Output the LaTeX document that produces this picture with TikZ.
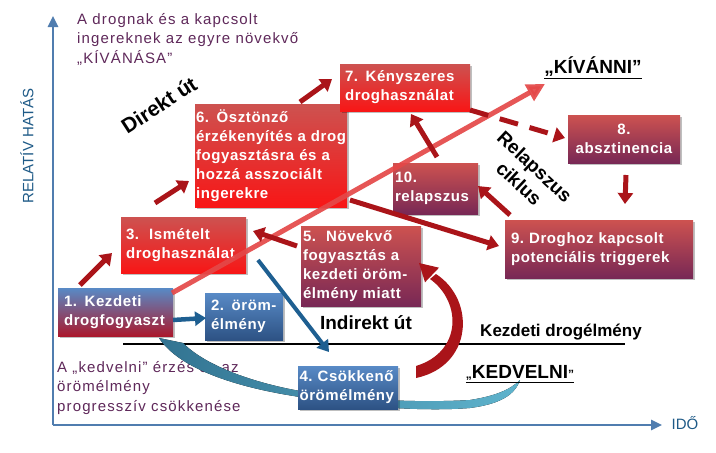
\documentclass[tikz,border=0pt]{standalone}
\usepackage{fontspec}
\setmainfont{Liberation Sans}
\newfontfamily\spacedfont[LetterSpace=7.5]{Liberation Sans}
\newfontfamily\boxspfont[LetterSpace=4]{Liberation Sans}
\usetikzlibrary{arrows.meta,shadows}
\hyphenpenalty=10000
\exhyphenpenalty=10000
\definecolor{axisblue}{RGB}{80,125,175}
\definecolor{labelblue}{RGB}{30,90,135}
\definecolor{plumtext}{RGB}{95,40,90}
\definecolor{arrowred}{RGB}{170,20,25}
\definecolor{diagred}{RGB}{228,72,72}
\definecolor{arrowblue}{RGB}{30,95,145}
\definecolor{swooshA}{RGB}{50,115,145}
\definecolor{swooshB}{RGB}{95,180,205}
\definecolor{redtop}{RGB}{205,82,80}
\definecolor{redbot}{RGB}{248,22,22}
\definecolor{plumtop}{RGB}{205,82,80}
\definecolor{plumbot}{RGB}{120,40,85}
\definecolor{bluetop}{RGB}{88,138,198}
\definecolor{bluebot}{RGB}{45,82,132}
\definecolor{mixbot}{RGB}{170,25,45}
\begin{document}
\begin{tikzpicture}[x=1pt,y=-1pt,
  box/.style={text=white, font=\boxspfont\bfseries\fontsize{15}{19}\selectfont, align=left, inner ysep=0pt,
    drop shadow={shadow xshift=1.5pt,shadow yshift=-1.5pt,opacity=0.25,fill=black}},
  redbox/.style={box, top color=redtop, bottom color=redbot},
  plumbox/.style={box, top color=plumtop, bottom color=plumbot},
  bluebox/.style={box, top color=bluetop, bottom color=bluebot},
  mixbox/.style={box, top color=bluetop, bottom color=mixbot},
  redarrow/.style={draw=arrowred, line width=5pt, -{Triangle[length=11pt,width=15pt]}},
  bluearrow/.style={draw=arrowblue, line width=4.5pt, -{Triangle[length=11pt,width=14pt]}},
  axisline/.style={draw=axisblue, line width=2.5pt, -{Triangle[length=11pt,width=10pt]}},
  heading/.style={font=\bfseries\fontsize{19}{23}\selectfont, text=black, inner sep=0pt},
  plumnote/.style={font=\spacedfont\fontsize{15}{19.5}\selectfont, text=plumtext, align=left, inner sep=0pt},
]
\fill[white] (0,0) rectangle (716,453);
\useasboundingbox (0,0) rectangle (716,453);

% axes
\coordinate (O) at (53,425);
\coordinate (ytip) at (53,16);
\coordinate (xtip) at (662,425);
\draw[axisline] (O) -- (ytip);
\draw[axisline] (O) -- (xtip);
\node[rotate=90, text=labelblue, font=\fontsize{15}{18}\selectfont] (ylab) at (27,146) {RELATÍV HATÁS};
\node[text=labelblue, font=\fontsize{15}{18}\selectfont] (xlab) at (685,423) {IDŐ};

% notes
\node[plumnote, anchor=north west] (topnote) at (77,13) {A drognak és a kapcsolt\\ingereknek az egyre növekvő\\„KÍVÁNÁSA”};
\node[plumnote, anchor=north west] (botnote) at (57,361) {A „kedvelni” érzés és az\\örömélmény\\progresszív csökkenése};

% baseline of the initial experience
\coordinate (hl1) at (123,344);
\coordinate (hl2) at (625,344);
\draw[line width=2pt] (hl1) -- (hl2);

% teal swoosh
\fill[left color=swooshA, right color=swooshB]
  (183,343) .. controls (205,365) and (250,382) .. (300,391)
  .. controls (350,400) and (420,403) .. (470,400)
  .. controls (495,396) and (510,390) .. (520,380)
  .. controls (515,395) and (500,404) .. (470,408)
  .. controls (420,412) and (350,406) .. (300,397)
  .. controls (240,388) and (180,370) .. (159,338) -- cycle;

% boxes
\node[mixbox, inner xsep=6pt, text width=103pt, minimum height=48pt] (b1) at (115.5,312) {1. Kezdeti\\drogfogyaszt};
\node[bluebox, inner xsep=6pt, text width=66pt, minimum height=47pt] (b2) at (244,316.5) {2. öröm-\\élmény};
\node[redbox, inner xsep=5pt, text width=115pt, minimum height=56pt] (b3) at (183.5,245) {3.\ \ Ismételt\\droghasználat};
\node[bluebox, inner xsep=1.5pt, text width=97pt, minimum height=43pt] (b4) at (348,387.5) {4.~Csökkenő\\örömélmény};
\node[plumbox, inner xsep=2pt, text width=116pt, minimum height=80pt] (b5) at (361,266) {5.\ \ Növekvő\\fogyasztás~a\\kezdeti~öröm-\\élmény~miatt};
\node[redbox, inner xsep=1pt, text width=150pt, minimum height=103pt] (b6) at (271,155.5) {6. Ösztönző\\érzékenyítés~a~drog\\fogyasztásra~és~a\\hozzá~asszociált\\ingerekre};
\node[redbox, inner xsep=5pt, text width=120pt, minimum height=47pt] (b7) at (405,87.5) {7. Kényszeres\\droghasználat};
\node[plumbox, align=center, inner xsep=3pt, text width=106pt, minimum height=48pt] (b8) at (624,139) {8.\\absztinencia};
\node[plumbox, inner xsep=6pt, text width=176pt, minimum height=58pt] (b9) at (599,249) {9.~Droghoz~kapcsolt\\potenciális~triggerek};
\node[plumbox, inner xsep=2pt, text width=81pt, minimum height=51pt] (b10) at (435.5,188.5) {10.\\relapszus};

% curved red arrow from 4 back to 5
\fill[arrowred] (416,378) .. controls (473,366) and (476,300) .. (436,274)
  -- (430,279) .. controls (462,302) and (462,352) .. (416,366) -- cycle;
\fill[arrowred] (419,263) -- (439,267.7) -- (425,282.3) -- cycle;

% long diagonal
\coordinate (dstart) at (172,293);
\coordinate (dend) at (545,84);
\draw[draw=diagred, opacity=0.92, line width=5pt, -{Triangle[length=18pt,width=18pt]}] (dstart) -- (dend);

% red arrows
\coordinate (a13s) at (80,285);   \coordinate (a13e) at (112,253);
\coordinate (a36s) at (155,203);  \coordinate (a36e) at (189,181);
\coordinate (a67s) at (300,102);  \coordinate (a67e) at (332,79);
\coordinate (a53s) at (297,246);  \coordinate (a53e) at (253,231);
\coordinate (a69s) at (350,200);  \coordinate (a69e) at (499,246);
\coordinate (a910s) at (510,215); \coordinate (a910e) at (478,186);
\coordinate (a107s) at (437,157); \coordinate (a107e) at (411,114);
\coordinate (a78s) at (470,110);  \coordinate (a78e) at (565,138);
\coordinate (a89s) at (626,175);  \coordinate (a89e) at (625,204);
\draw[redarrow] (a13s) -- (a13e);
\draw[redarrow] (a36s) -- (a36e);
\draw[redarrow] (a67s) -- (a67e);
\draw[redarrow] (a53s) -- (a53e);
\draw[redarrow] (a69s) -- (a69e);
\draw[redarrow] (a910s) -- (a910e);
\draw[redarrow] (a107s) -- (a107e);
\draw[redarrow, dash pattern=on 19pt off 12pt] (a78s) -- (a78e);
\draw[redarrow] (a89s) -- (a89e);

% blue arrows
\coordinate (b12s) at (173,320); \coordinate (b12e) at (206,318);
\coordinate (b34s) at (258,260); \coordinate (b34e) at (329,352);
\draw[bluearrow] (b12s) -- (b12e);
\draw[bluearrow, line width=4pt] (b34s) -- (b34e);

% headings
\node[heading, rotate=33, font=\bfseries\fontsize{21}{25}\selectfont] (direkt) at (159,105) {Direkt út};
\node[heading, rotate=-43, align=center] (relapse) at (527,175) {Relapszus\\ciklus};
\node[heading] (indirekt) at (366,323) {Indirekt út};
\node[heading, font=\bfseries\fontsize{17}{20}\selectfont] (kezd) at (561,332) {Kezdeti drogélmény};
\node[heading] (kivanni) at (593,68) {\underline{„KÍVÁNNI”}};
\node[heading] (kedvelni) at (520,374) {\underline{{\fontsize{12}{12}\selectfont„}KEDVELNI{\fontsize{12}{12}\selectfont”}}};
\end{tikzpicture}
\end{document}
